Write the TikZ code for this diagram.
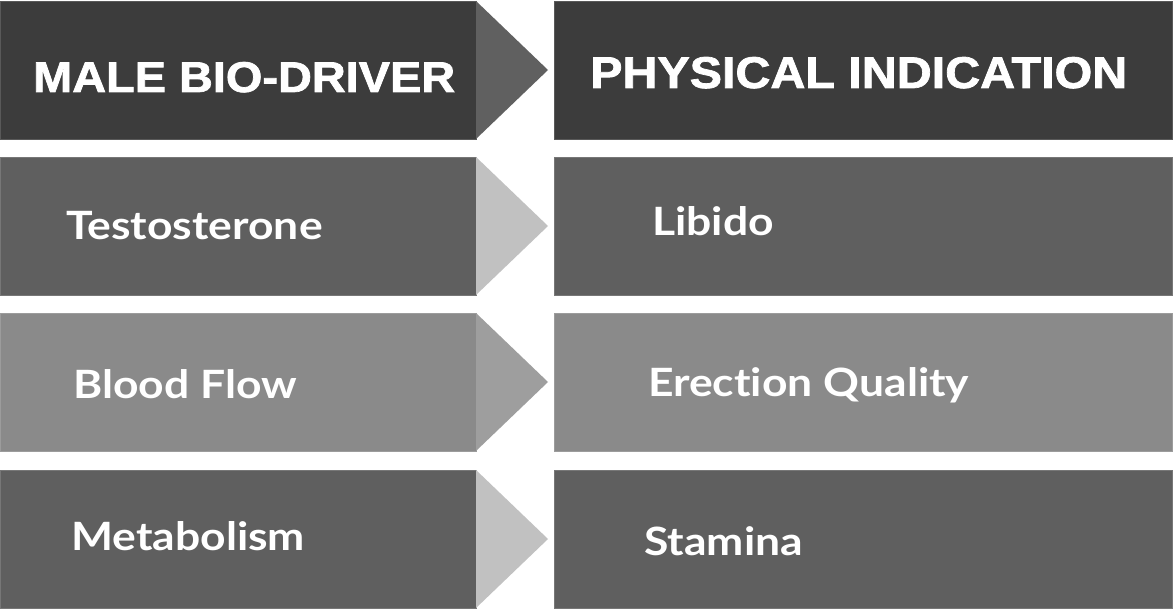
\documentclass[tikz,border=0pt]{standalone}
\usepackage{fontspec}
\usepackage{graphicx}
\newfontfamily\hdrfont{Liberation Sans}[BoldFeatures={FakeBold=1.6}]
\newfontfamily\bodyfont{Lato}[Ligatures={NoCommon,NoDiscretionary,NoRare}]
\usetikzlibrary{calc}

\definecolor{hdrgray}{HTML}{3C3C3C}
\definecolor{hdrtri}{HTML}{606060}
\definecolor{darkrow}{HTML}{5F5F5F}
\definecolor{lightrow}{HTML}{8A8A8A}
\definecolor{paletri}{HTML}{C1C1C1}
\definecolor{midtri}{HTML}{9E9E9E}

% body labels are set a little wider than the font's natural width
\newcommand{\widelabel}[1]{\scalebox{1.14}[1]{#1}}

\tikzset{
  cell/.style={rectangle, inner sep=0pt, outer sep=0pt, anchor=north west,
               draw=#1!85!white, line width=0.8pt, fill=#1},
  leftcell/.style={cell=#1, minimum width=476pt, minimum height=138pt},
  rightcell/.style={cell=#1, minimum width=618pt, minimum height=138pt},
  hdrtext/.style={anchor=base west, inner sep=0pt, text=white,
                  font=\hdrfont\bfseries\fontsize{42}{42}\selectfont},
  bodytext/.style={anchor=base west, inner sep=0pt, text=white,
                   font=\bodyfont\bfseries\fontsize{39}{39}\selectfont},
  pointer/.style={fill=#1, draw=none}
}

\begin{document}
\begin{tikzpicture}[x=1pt, y=-1pt]
  \useasboundingbox (0,0) rectangle (1173,610);
  \fill[white] (0,0) rectangle (1173,610);

  % header row
  \node[leftcell=hdrgray]  (l1) at (0,1) {};
  \node[rightcell=hdrgray] (r1) at (554,1) {};
  % body rows
  \node[leftcell=darkrow]   (l2) at (0,157) {};
  \node[rightcell=darkrow]  (r2) at (554,157) {};
  \node[leftcell=lightrow]  (l3) at (0,313) {};
  \node[rightcell=lightrow] (r3) at (554,313) {};
  \node[leftcell=darkrow]   (l4) at (0,470) {};
  \node[rightcell=darkrow]  (r4) at (554,470) {};

  % chevrons between the columns
  \fill[pointer=hdrtri]   (l1.north east) -- ($(l1.east)+(72,0)$) -- (l1.south east) -- cycle;
  \fill[pointer=paletri]  (l2.north east) -- ($(l2.east)+(72,0)$) -- (l2.south east) -- cycle;
  \fill[pointer=midtri]   (l3.north east) -- ($(l3.east)+(72,0)$) -- (l3.south east) -- cycle;
  \fill[pointer=paletri]  (l4.north east) -- ($(l4.east)+(72,0)$) -- (l4.south east) -- cycle;

  % labels
  \node[hdrtext] (h1) at (33,92) {\resizebox{422pt}{30pt}{MALE BIO-DRIVER}};
  \node[hdrtext] (h2) at (590,88) {\resizebox{537pt}{31pt}{PHYSICAL INDICATION}};

  \node[bodytext] (a2) at (66,239) {\widelabel{Testosterone}};
  \node[bodytext] (b2) at (652,235) {\widelabel{Libido}};
  \node[bodytext] (a3) at (73,398) {\widelabel{Blood Flow}};
  \node[bodytext] (b3) at (648,396) {\widelabel{Erection Quality}};
  \node[bodytext] (a4) at (71,550) {\widelabel{Metabolism}};
  \node[bodytext] (b4) at (644,555) {\widelabel{Stamina}};
\end{tikzpicture}
\end{document}
